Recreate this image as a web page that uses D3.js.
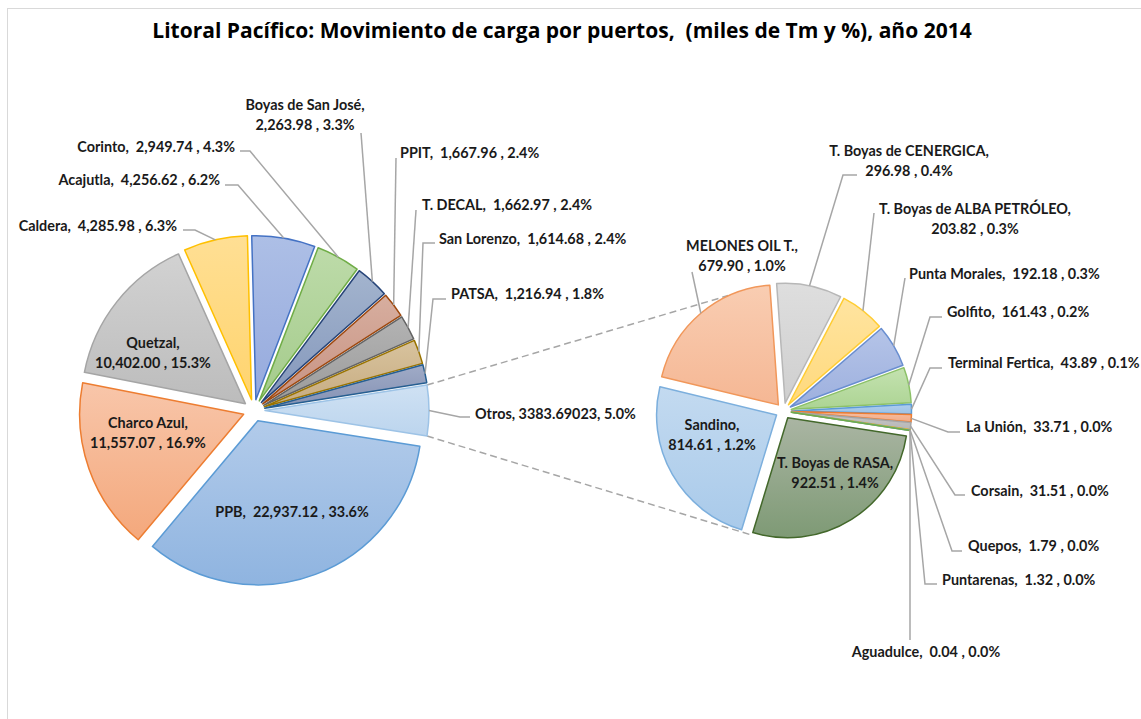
<!DOCTYPE html>
<html>
<head>
<meta charset="utf-8">
<script src="https://cdn.jsdelivr.net/npm/d3@7"></script>
<style>
  body { margin: 0; background: #fff; }
  text { font-family: Lato, "Open Sans", sans-serif; font-weight: bold; white-space: pre; }
  text.title { font-family: "Open Sans", Lato, sans-serif; }
</style>
</head>
<body>
<div id="chart"></div>
<script>
(function () {

  const title = "Litoral Pacífico: Movimiento de carga por puertos,  (miles de Tm y %), año 2014"

  // main pie, clockwise starting with the "Otros" slice
  const leftNames = ["Otros", "PPB", "Charco Azul", "Quetzal", "Caldera", "Acajutla", "Corinto",
    "Boyas de San José", "PPIT", "T. DECAL", "San Lorenzo", "PATSA"]
  const leftValues = [3383.69023, 22937.12, 11557.07, 10402.00, 4285.98, 4256.62, 2949.74,
    2263.98, 1667.96, 1662.97, 1614.68, 1216.94]

  // breakdown of "Otros", clockwise
  const rightNames = ["MELONES OIL T.", "T. Boyas de CENERGICA", "T. Boyas de ALBA PETRÓLEO", "Punta Morales",
    "Golfito", "Terminal Fertica", "La Unión", "Corsain", "Quepos", "Puntarenas", "Aguadulce",
    "T. Boyas de RASA", "Sandino"]
  const rightValues = [679.90, 296.98, 203.82, 192.18, 161.43, 43.89, 33.71, 31.51, 1.79, 1.32, 0.04,
    922.51, 814.61]

  // fill top, fill bottom, outline
  const leftColors = [
    ["#cfe1f3", "#bcd5ee", "#9dc3e6"],
    ["#b2cbea", "#8fb4e0", "#5b9bd5"],
    ["#f8c6aa", "#f4a87c", "#ed7d31"],
    ["#d2d2d2", "#bcbcbc", "#a5a5a5"],
    ["#ffdf94", "#ffd46e", "#ffc000"],
    ["#adbfe6", "#96aadd", "#4472c4"],
    ["#bddba9", "#a4cb8b", "#70ad47"],
    ["#a3b4ce", "#8497bb", "#264478"],
    ["#d7ae9f", "#c79282", "#9e480e"],
    ["#b3b3b3", "#9b9b9b", "#636363"],
    ["#d8c39e", "#c6ab80", "#997300"],
    ["#a0abc7", "#8491b3", "#255e91"]
  ]
  const rightColors = [
    ["#f9cdb2", "#f5b794", "#f1975a"],
    ["#dedede", "#cfcfcf", "#b7b7b7"],
    ["#ffe4a0", "#ffd97c", "#ffcd33"],
    ["#b5c4e8", "#9db0de", "#698ed0"],
    ["#c4e2b0", "#acd493", "#8cc168"],
    ["#afcdee", "#9cc2e6", "#5b9bd5"],
    ["#f6bfa3", "#f3aa85", "#ed7d31"],
    ["#c8c8c8", "#b7b7b7", "#a5a5a5"],
    ["#ffd966", "#ffc000", "#ffc000"],
    ["#9dc3e6", "#5b9bd5", "#5b9bd5"],
    ["#a9d18e", "#70ad47", "#70ad47"],
    ["#aab5a3", "#7e9a75", "#43682b"],
    ["#c3daf0", "#a9caea", "#7cafdd"]
  ]

  const width = 1141
  const height = 719

  const L = { cx: 254, cy: 410.5, r: 164, ex: 11 }
  const R = { cx: 783.5, cy: 411, r: 120, ex: 8 }

  // label layout: x/y = text position (vertical centre), leader = elbow points from the label side
  const labelLayout = {
    "Boyas de San José": { x: 305, y: 105, anchor: "middle", split: true, leader: [[361, 133]] },
    "Corinto": { x: 235, y: 147, anchor: "end", leader: [[240, 151], [250, 151]] },
    "Acajutla": { x: 220, y: 180, anchor: "end", leader: [[225, 185], [238, 185]] },
    "Caldera": { x: 177, y: 226, anchor: "end", leader: [[183, 230], [195, 230]] },
    "PPIT": { x: 400, y: 153, anchor: "start", leader: [[396, 158]] },
    "T. DECAL": { x: 422, y: 205, anchor: "start", leader: [[416, 210]] },
    "San Lorenzo": { x: 439, y: 239, anchor: "start", leader: [[435, 243], [423, 243]] },
    "PATSA": { x: 451, y: 294, anchor: "start", leader: [[446, 299], [433, 299]] },
    "Otros": { x: 475, y: 414, anchor: "start", leader: [[470, 417], [460, 417]] },
    "Quetzal": { x: 153, y: 343, anchor: "middle", split: true },
    "Charco Azul": { x: 148, y: 423, anchor: "middle", split: true },
    "PPB": { x: 292, y: 512, anchor: "middle" },
    "MELONES OIL T.": { x: 742, y: 246, anchor: "middle", split: true, leader: [[692, 272]] },
    "T. Boyas de CENERGICA": { x: 909, y: 151, anchor: "middle", split: true, leader: [[857, 175], [843, 175]] },
    "T. Boyas de ALBA PETRÓLEO": { x: 975, y: 209, anchor: "middle", split: true, leader: [[874, 213]] },
    "Punta Morales": { x: 909, y: 274, anchor: "start", leader: [[905, 278]] },
    "Golfito": { x: 947, y: 312, anchor: "start", leader: [[942, 317], [930, 317]] },
    "Terminal Fertica": { x: 948, y: 363, anchor: "start", leader: [[942, 368], [930, 368]] },
    "La Unión": { x: 966, y: 427, anchor: "start", leader: [[960, 432], [948, 432]] },
    "Corsain": { x: 971, y: 491, anchor: "start", leader: [[965, 495], [955, 495]] },
    "Quepos": { x: 968, y: 546, anchor: "start", leader: [[962, 551], [952, 551]] },
    "Puntarenas": { x: 942, y: 580, anchor: "start", leader: [[937, 584], [925, 584]] },
    "Aguadulce": { x: 926, y: 652, anchor: "middle", leader: [[910, 640]] },
    "Sandino": { x: 712, y: 425, anchor: "middle", split: true },
    "T. Boyas de RASA": { x: 835, y: 463, anchor: "middle", split: true }
  }

  const total = d3.sum(leftValues)
  const fmtVal = d3.format(",.2f")
  const fmtPct = d3.format(".1%")

  const svg = d3.select("#chart").append("svg")
    .attr("width", width)
    .attr("height", height)

  const defs = svg.append("defs")

  // chart frame
  svg.append("rect")
    .attr("x", 7.5).attr("y", 8.5)
    .attr("width", 1200).attr("height", 800)
    .attr("fill", "#fff")
    .attr("stroke", "#d9d9d9")

  svg.append("text")
    .attr("class", "title")
    .attr("x", 562).attr("y", 31)
    .attr("dy", "0.35em")
    .attr("text-anchor", "middle")
    .style("font-size", "21px")
    .attr("fill", "#000")
    .text(title)

  const otrosAngle = leftValues[0] / total * 2 * Math.PI
  const leftStart = Math.PI / 2 - otrosAngle / 2
  const rightStart = -76.4 * Math.PI / 180

  const leftArcs = d3.pie().sort(null)
    .startAngle(leftStart).endAngle(leftStart + 2 * Math.PI)(leftValues)
  const rightArcs = d3.pie().sort(null)
    .startAngle(rightStart).endAngle(rightStart + 2 * Math.PI)(rightValues)

  const polar = (a, r) => [Math.sin(a) * r, -Math.cos(a) * r]

  function sliceCenter(pie, d) {
    const mid = (d.startAngle + d.endAngle) / 2
    const o = polar(mid, pie.ex)
    return [pie.cx + o[0], pie.cy + o[1]]
  }

  // dashed connectors between the "Otros" slice and the second pie
  const otros = leftArcs[0]
  const oc = sliceCenter(L, otros)
  const topCorner = polar(otros.startAngle, L.r)
  const botCorner = polar(otros.endAngle, L.r)
  const topEnd = polar(334.4 * Math.PI / 180, R.r + R.ex)
  const botEnd = polar(195.4 * Math.PI / 180, R.r + R.ex)
  const connectors = [
    [[oc[0] + topCorner[0], oc[1] + topCorner[1]], [R.cx + topEnd[0], R.cy + topEnd[1]]],
    [[oc[0] + botCorner[0], oc[1] + botCorner[1]], [R.cx + botEnd[0], R.cy + botEnd[1]]]
  ]
  svg.selectAll(".connector")
    .data(connectors)
    .join("line")
    .attr("class", "connector")
    .attr("x1", d => d[0][0]).attr("y1", d => d[0][1])
    .attr("x2", d => d[1][0]).attr("y2", d => d[1][1])
    .attr("stroke", "#a6a6a6")
    .attr("stroke-width", 1.5)
    .style("stroke-dasharray", "7,4")

  function drawPie(pie, arcs, names, colors, prefix) {
    colors.forEach((c, i) => {
      const g = defs.append("linearGradient")
        .attr("id", prefix + i)
        .attr("x1", 0).attr("y1", 0).attr("x2", 0).attr("y2", 1)
      g.append("stop").attr("offset", "0%").attr("stop-color", c[0])
      g.append("stop").attr("offset", "100%").attr("stop-color", c[1])
    })

    const arc = d3.arc().innerRadius(0).outerRadius(pie.r)

    svg.append("g")
      .selectAll("path")
      .data(arcs)
      .join("path")
      .attr("transform", d => "translate(" + sliceCenter(pie, d) + ")")
      .attr("d", arc)
      .attr("fill", (d, i) => "url(#" + prefix + i + ")")
      .attr("stroke", (d, i) => colors[i][2])
      .attr("stroke-width", 1.5)
      .attr("stroke-linejoin", "round")

    // leader lines
    const leaders = arcs.map((d, i) => {
      const lay = labelLayout[names[i]]
      if (!lay || !lay.leader) return null
      const c = sliceCenter(pie, d)
      const p = polar((d.startAngle + d.endAngle) / 2, pie.r)
      return lay.leader.concat([[c[0] + p[0], c[1] + p[1]]])
    }).filter(d => d)

    svg.append("g")
      .selectAll("path")
      .data(leaders)
      .join("path")
      .attr("d", d3.line())
      .attr("fill", "none")
      .attr("stroke", "#a6a6a6")
      .attr("stroke-width", 1.5)

    // labels
    arcs.forEach((d, i) => {
      const name = names[i]
      const lay = labelLayout[name]
      const pct = fmtPct(d.value / total)
      let lines
      if (name === "Otros") {
        lines = [name + ", " + d.value + ", " + pct]
      } else if (lay.split) {
        lines = [name + ",", fmtVal(d.value) + " , " + pct]
      } else {
        lines = [name + ",  " + fmtVal(d.value) + " , " + pct]
      }
      svg.append("g")
        .selectAll("text")
        .data(lines)
        .join("text")
        .attr("x", lay.x)
        .attr("y", (t, j) => lay.y + j * 19.5)
        .attr("dy", "0.35em")
        .attr("text-anchor", lay.anchor)
        .attr("fill", "#1a1a1a")
        .style("font-size", "14.4px")
        .text(t => t)
    })
  }

  drawPie(L, leftArcs, leftNames, leftColors, "lg")
  drawPie(R, rightArcs, rightNames, rightColors, "rg")

})();
</script>
</body>
</html>
